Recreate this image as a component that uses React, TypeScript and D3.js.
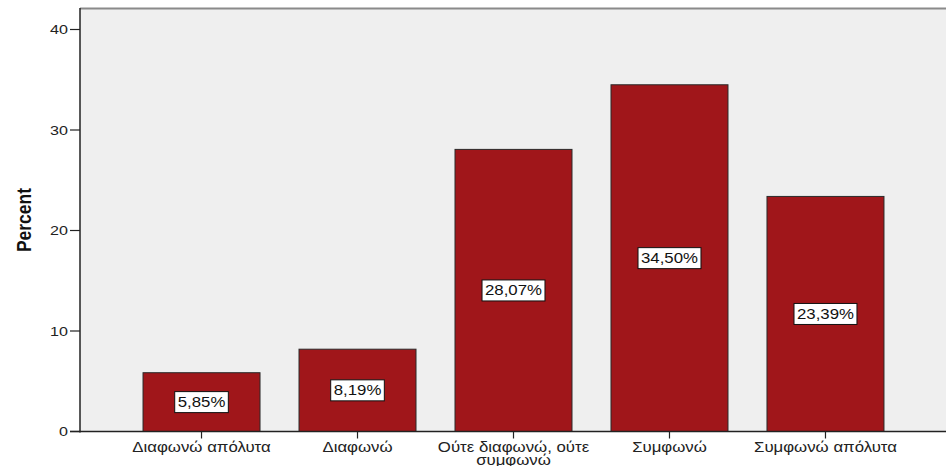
import { useEffect, useRef } from "react";
import * as d3 from "d3";

const categories = [
  "Διαφωνώ απόλυτα",
  "Διαφωνώ",
  "Ούτε διαφωνώ, ούτε συμφωνώ",
  "Συμφωνώ",
  "Συμφωνώ απόλυτα",
];
const percents = [5.85, 8.19, 28.07, 34.5, 23.39];
const yTicks = [0, 10, 20, 30, 40];

const W = 946;
const H = 466;
// the source image is stretched sideways, so every text gets this x scale
const SX = 1.2;

export default function App() {
  const svgRef = useRef<SVGSVGElement>(null);

  useEffect(() => {
    if (!svgRef.current) return;
    const svg = d3.select(svgRef.current);
    svg.selectAll("*").remove();

    const left = 80;
    const right = 947;
    const top = 8;
    const bottom = 431.5;
    const font = "'Liberation Sans', Arial, sans-serif";

    const x = d3
      .scaleBand<string>()
      .domain(categories)
      .range([left, right])
      .paddingInner(0.25)
      .paddingOuter(0.404);
    const y = d3.scaleLinear().domain([0, 40]).range([bottom, 29.5]);

    // plot background
    svg
      .append("rect")
      .attr("x", left)
      .attr("y", top)
      .attr("width", right - left)
      .attr("height", bottom - top)
      .attr("fill", "#efefef");
    svg
      .append("line")
      .attr("x1", left)
      .attr("x2", W)
      .attr("y1", top + 0.5)
      .attr("y2", top + 0.5)
      .attr("stroke", "#8a8a8a")
      .attr("stroke-width", 2);

    // bars
    svg
      .selectAll("rect.bar")
      .data(percents)
      .join("rect")
      .attr("class", "bar")
      .attr("x", (_, i) => x(categories[i]) || 0)
      .attr("y", (d) => y(d))
      .attr("width", x.bandwidth())
      .attr("height", (d) => bottom - y(d))
      .attr("fill", "#a0161a")
      .attr("stroke", "#2a2a2a")
      .attr("stroke-width", 1);

    // value labels
    const lab = svg
      .selectAll("g.lab")
      .data(percents)
      .join("g")
      .attr("class", "lab")
      .attr(
        "transform",
        (d, i) =>
          `translate(${(x(categories[i]) || 0) + x.bandwidth() / 2},${(y(d) + bottom) / 2})`
      );
    const box = lab
      .append("rect")
      .attr("y", -10.5)
      .attr("height", 21)
      .attr("fill", "#fff")
      .attr("stroke", "#111")
      .attr("stroke-width", 1);
    const txt = lab
      .append("text")
      .attr("text-anchor", "middle")
      .attr("dy", "0.36em")
      .attr("transform", `scale(${SX},1)`)
      .attr("font-family", font)
      .attr("font-size", 14)
      .attr("fill", "#111")
      .text((d) => d.toFixed(2).replace(".", ",") + "%");
    txt.each(function (_, i) {
      const w = (this as SVGTextElement).getComputedTextLength() * SX + 6;
      d3.select(box.nodes()[i]).attr("x", -w / 2).attr("width", w);
    });

    // y axis
    svg
      .append("line")
      .attr("x1", left)
      .attr("x2", left)
      .attr("y1", top)
      .attr("y2", bottom + 1)
      .attr("stroke", "#222")
      .attr("stroke-width", 1.5);
    const yt = svg.append("g").selectAll("g").data(yTicks).join("g");
    yt.append("line")
      .attr("x1", left - 10)
      .attr("x2", left)
      .attr("y1", (d) => y(d))
      .attr("y2", (d) => y(d))
      .attr("stroke", "#222")
      .attr("stroke-width", 1.2);
    yt.append("text")
      .attr("transform", (d) => `translate(${left - 12},${y(d)}) scale(1.24,1)`)
      .attr("dy", "0.36em")
      .attr("text-anchor", "end")
      .attr("font-family", font)
      .attr("font-size", 13)
      .attr("fill", "#222")
      .text((d) => d);

    svg
      .append("text")
      .attr("transform", `translate(31,220) scale(${SX},1) rotate(-90)`)
      .attr("text-anchor", "middle")
      .attr("font-family", font)
      .attr("font-weight", "bold")
      .attr("font-size", 17.5)
      .attr("fill", "#111")
      .text("Percent");

    // x axis
    svg
      .append("line")
      .attr("x1", left - 10)
      .attr("x2", W)
      .attr("y1", bottom)
      .attr("y2", bottom)
      .attr("stroke", "#222")
      .attr("stroke-width", 1.5);
    const xt = svg
      .append("g")
      .selectAll("g")
      .data(categories)
      .join("g")
      .attr("transform", (d) => `translate(${(x(d) || 0) + x.bandwidth() / 2},${bottom})`);
    xt.append("line")
      .attr("y1", 0)
      .attr("y2", 7)
      .attr("stroke", "#222")
      .attr("stroke-width", 1.2);
    xt.append("text")
      .attr("text-anchor", "middle")
      .attr("transform", `scale(${SX},1)`)
      .attr("font-family", font)
      .attr("font-size", 14)
      .attr("fill", "#222")
      .each(function (d) {
        const t = d3.select(this);
        const cut = d.lastIndexOf(" ");
        const lines = d.length > 20 ? [d.slice(0, cut), d.slice(cut + 1)] : [d];
        lines.forEach((ln, i) => {
          t.append("tspan")
            .attr("x", 0)
            .attr("y", 21 + i * 13)
            .text(ln);
        });
      });
  }, []);

  return (
    <svg
      ref={svgRef}
      width={W}
      height={H}
      style={{ position: "absolute", left: 0, top: 0, background: "#fff" }}
    />
  );
}
